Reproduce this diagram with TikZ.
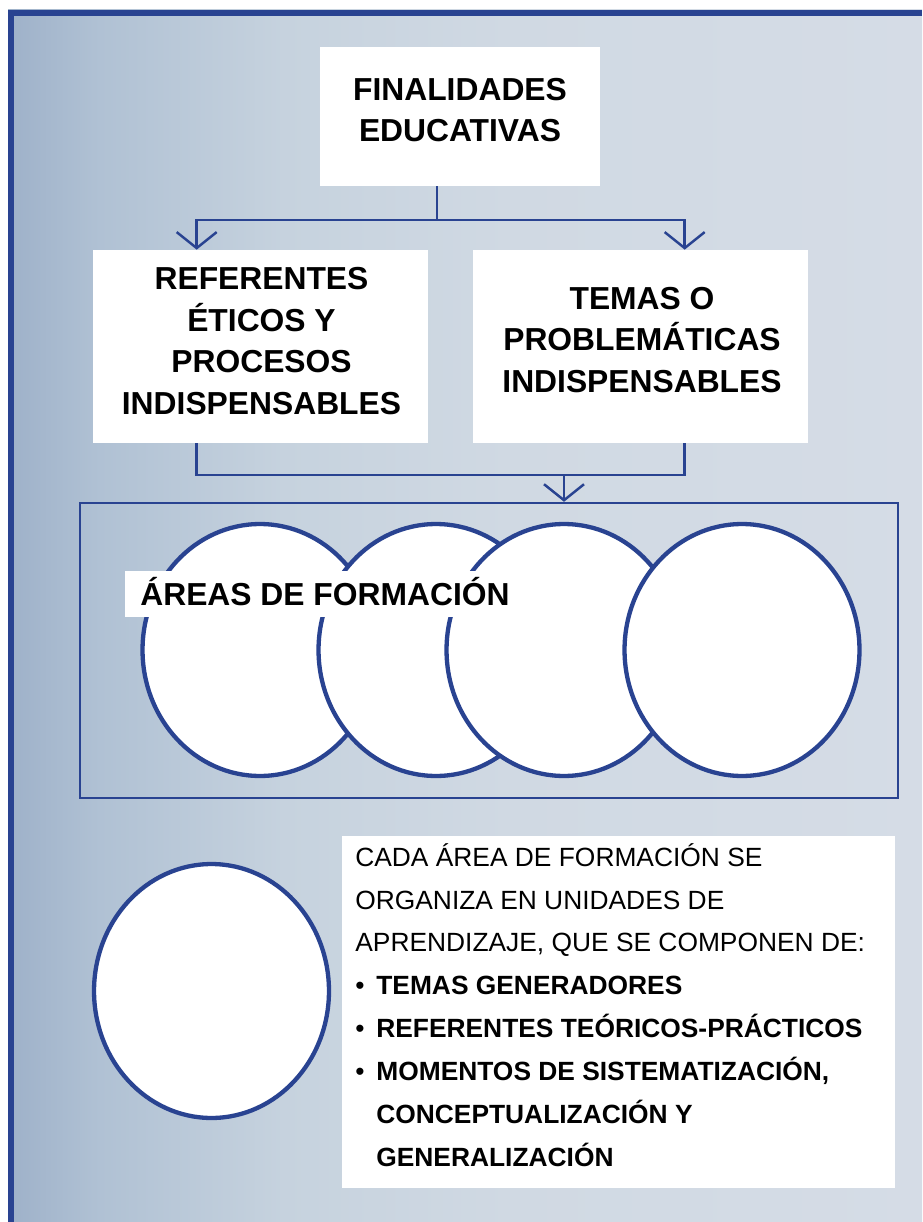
\documentclass[tikz,border=0pt]{standalone}
\usepackage{fontspec}
\setmainfont{Liberation Sans}
\usetikzlibrary{arrows.meta, positioning, shapes.geometric, calc}

\definecolor{frameblue}{RGB}{41,67,145}
\pgfdeclarehorizontalshading{bgshade}{100bp}{rgb(0bp)=(0.62,0.694,0.788); rgb(25bp)=(0.62,0.694,0.788); rgb(30bp)=(0.69,0.757,0.831); rgb(40bp)=(0.776,0.824,0.871); rgb(52.5bp)=(0.816,0.851,0.89); rgb(75bp)=(0.835,0.863,0.902); rgb(100bp)=(0.835,0.863,0.902)}

\begin{document}
\begin{tikzpicture}[x=0.02cm, y=-0.02cm,
  box/.style={fill=white, inner sep=0pt},
  bigtext/.style={align=center, font=\fontsize{18.1}{23.8}\selectfont\bfseries},
  conn/.style={frameblue, line width=1.4pt},
  arr/.style={-{Straight Barb[length=0.32cm, width=0.8cm]}},
  circ/.style={ellipse, draw=frameblue, fill=white, line width=2.45pt, minimum width=4.7cm, minimum height=5.04cm, inner sep=0pt}]
  \useasboundingbox (0,0) rectangle (922,1222);
  \shade[shading=bgshade] (8,10) rectangle (922,1222);
  \draw[frameblue, line width=0.12cm] (11,1222) -- (11,13) -- (922,13);

  % top boxes
  \node[box, minimum width=5.6cm, minimum height=2.78cm] (fin) at (460,116.5) {};
  \node[bigtext] (fintxt) at (460,110) {FINALIDADES\\EDUCATIVAS};
  \node[box, minimum width=6.7cm, minimum height=3.86cm] (ref) at (260.5,346.5) {};
  \node[bigtext] (reftxt) at (261.5,341) {REFERENTES\\ÉTICOS Y\\PROCESOS\\INDISPENSABLES};
  \node[box, minimum width=6.7cm, minimum height=3.86cm] (tem) at (640.5,346.5) {};
  \node[bigtext] (temtxt) at (642,340) {TEMAS O\\PROBLEMÁTICAS\\INDISPENSABLES};

  \coordinate (j1) at (437,220);
  \draw[conn] (j1 |- fin.south) -- (j1);
  \draw[conn, arr] (j1) -| ($(ref.north west)+(104,0)$);
  \draw[conn, arr] (j1) -| ($(tem.north west)+(212,0)$);

  % areas
  \node[draw=frameblue, line width=1.4pt, minimum width=16.36cm, minimum height=5.9cm] (areas) at (489,650.5) {};
  \coordinate (j2) at (564,475);
  \draw[conn] ($(ref.south west)+(104,0)$) |- (j2);
  \draw[conn] ($(tem.south west)+(212,0)$) |- (j2);
  \draw[conn, arr] (j2) -- (j2 |- areas.north);

  \foreach \cx [count=\i] in {260,436,564,742}
    \node[circ] (c\i) at (\cx,650) {};
  \node[box, anchor=west, inner xsep=0.3cm, minimum height=0.92cm, text height=0.458cm, text depth=0cm,
    font=\fontsize{18.1}{22}\selectfont\bfseries] (areatxt) at (125,594) {ÁREAS DE FORMACIÓN};

  % unidades
  \node[circ, minimum height=5.08cm] (c5) at (211.5,991) {};
  \node[box, anchor=north west, minimum width=11.06cm, minimum height=7.04cm] (unid) at (342,836) {};
  \node[anchor=north west, inner sep=0pt, align=left, font=\fontsize{15}{24.4}\selectfont] (unidtxt) at (355,843)
    {CADA ÁREA DE FORMACIÓN SE\\ORGANIZA EN UNIDADES DE\\APRENDIZAJE, QUE SE COMPONEN DE:\\
     \makebox[0.42cm][l]{\textbullet}\textbf{TEMAS GENERADORES}\\
     \makebox[0.42cm][l]{\textbullet}\textbf{REFERENTES TEÓRICOS-PRÁCTICOS}\\
     \makebox[0.42cm][l]{\textbullet}\textbf{MOMENTOS DE SISTEMATIZACIÓN,}\\
     \hspace*{0.42cm}\textbf{CONCEPTUALIZACIÓN Y}\\
     \hspace*{0.42cm}\textbf{GENERALIZACIÓN}};
\end{tikzpicture}
\end{document}
